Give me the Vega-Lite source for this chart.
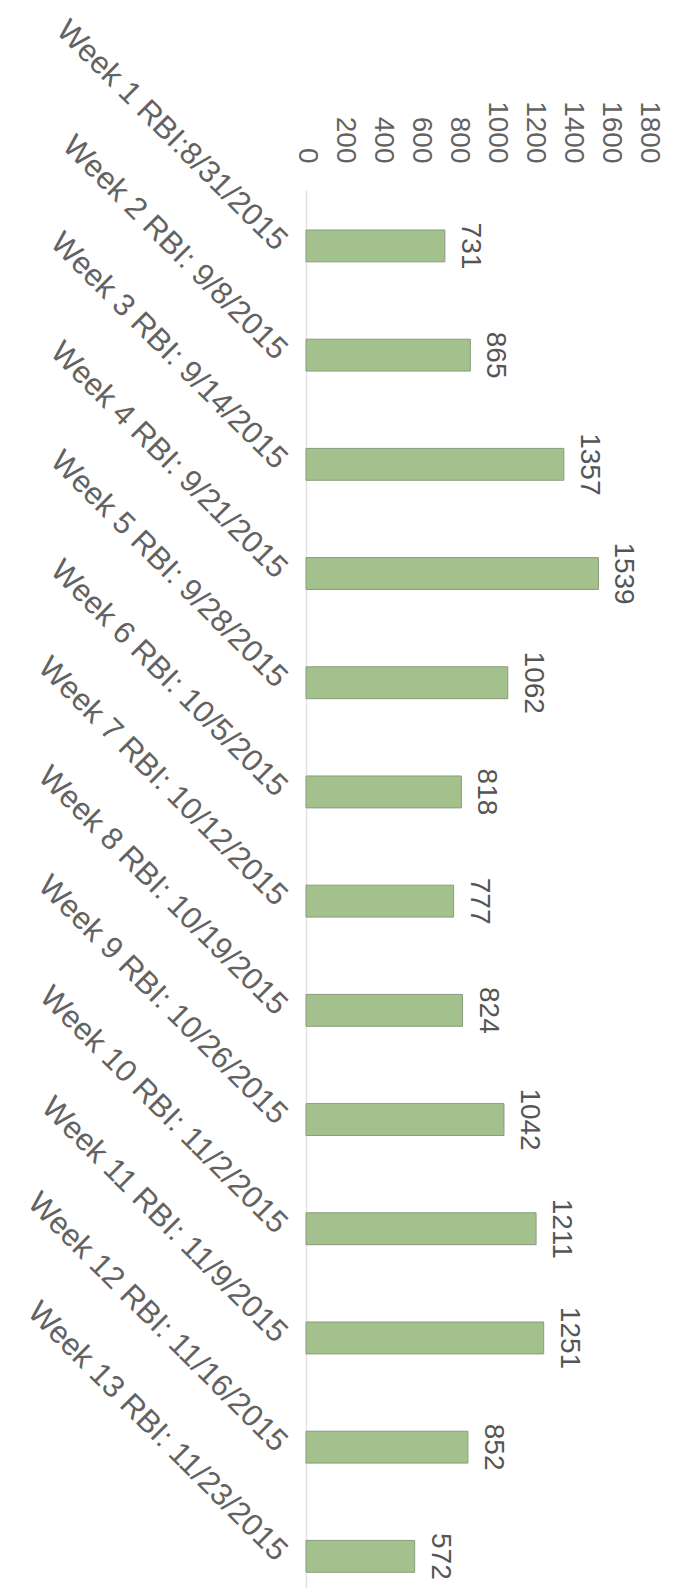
{
  "$schema": "https://vega.github.io/schema/vega-lite/v6.json",
  "autosize": "none",
  "padding": {"left": 306, "top": 190, "right": 34, "bottom": 0},
  "width": 342,
  "height": 1398,
  "background": "white",
  "config": {
    "view": {"stroke": null},
    "font": "Liberation Sans",
    "axis": {"labelFont": "Liberation Sans", "labelColor": "#626262", "grid": false, "ticks": false, "title": null}
  },
  "data": {
    "values": [
      {"week": "Week 1 RBI:8/31/2015", "rbi": 731},
      {"week": "Week 2 RBI: 9/8/2015", "rbi": 865},
      {"week": "Week 3 RBI: 9/14/2015", "rbi": 1357},
      {"week": "Week 4 RBI: 9/21/2015", "rbi": 1539},
      {"week": "Week 5 RBI: 9/28/2015", "rbi": 1062},
      {"week": "Week 6 RBI: 10/5/2015", "rbi": 818},
      {"week": "Week 7 RBI: 10/12/2015", "rbi": 777},
      {"week": "Week 8 RBI: 10/19/2015", "rbi": 824},
      {"week": "Week 9 RBI: 10/26/2015", "rbi": 1042},
      {"week": "Week 10 RBI: 11/2/2015", "rbi": 1211},
      {"week": "Week 11 RBI: 11/9/2015", "rbi": 1251},
      {"week": "Week 12 RBI: 11/16/2015", "rbi": 852},
      {"week": "Week 13 RBI: 11/23/2015", "rbi": 572}
    ]
  },
  "encoding": {
    "y": {
      "field": "week",
      "type": "nominal",
      "sort": null,
      "scale": {"paddingInner": 0.708, "paddingOuter": 0.255, "align": 0.718, "round": false},
      "axis": {
        "orient": "left",
        "labelAngle": 45,
        "labelAlign": "right",
        "labelBaseline": "middle",
        "labelFontSize": 31,
        "labelPadding": 25,
        "labelLimit": 0,
        "domain": true,
        "domainColor": "#e2e2e2",
        "domainWidth": 1.5
      }
    },
    "x": {
      "field": "rbi",
      "type": "quantitative",
      "scale": {"domain": [0, 1800], "nice": false},
      "axis": {
        "orient": "top",
        "values": [0, 200, 400, 600, 800, 1000, 1200, 1400, 1600, 1800],
        "format": "d",
        "labelAngle": 90,
        "labelAlign": "right",
        "labelBaseline": "middle",
        "labelFontSize": 28,
        "labelPadding": 27,
        "domain": false,
        "labelOverlap": false,
        "labelFlush": false
      }
    }
  },
  "layer": [
    {
      "mark": {"type": "bar", "fill": "#a3c18c", "stroke": "#8a9c7c", "strokeWidth": 1}
    },
    {
      "mark": {
        "type": "text",
        "angle": 90,
        "align": "center",
        "baseline": "alphabetic",
        "dy": -17,
        "fontSize": 28,
        "color": "#555555",
        "font": "Liberation Sans"
      },
      "encoding": {"text": {"field": "rbi", "type": "quantitative", "format": "d"}}
    }
  ]
}
